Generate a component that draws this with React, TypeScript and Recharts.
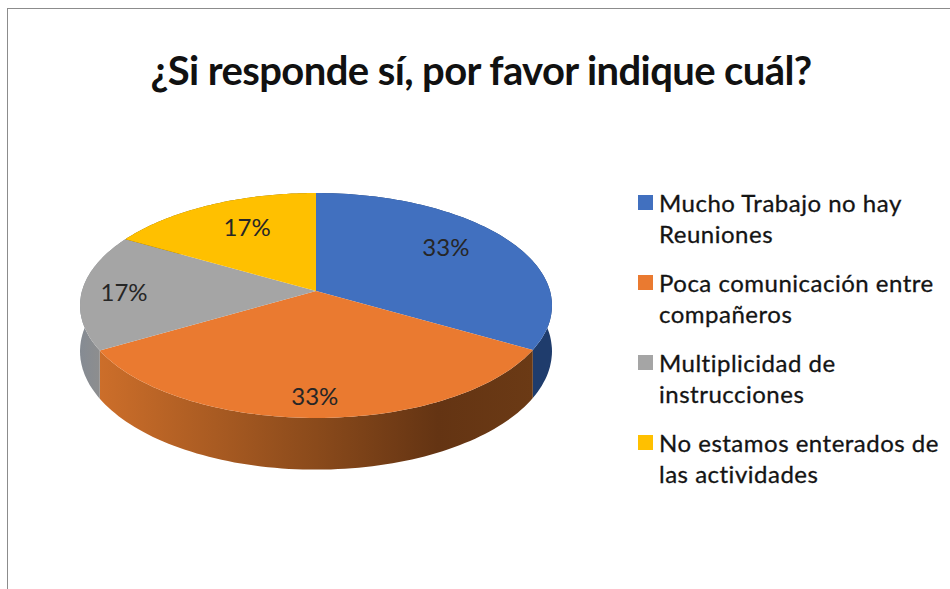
import { PieChart, Pie, Cell, Legend } from 'recharts';

const categories = [
  'Mucho Trabajo no hay Reuniones',
  'Poca comunicación entre compañeros',
  'Multiplicidad de instrucciones',
  'No estamos enterados de las actividades',
];
const shares = [33.3, 33.3, 16.7, 16.7];
const topColors = ['#4170BF', '#EA7A30', '#A5A5A5', '#FFC000'];
const wallColors = ['#1F3C6C', 'url(#wallOrange)', 'url(#wallGray)', '#7F6000'];
const legendLines = [
  ['Mucho Trabajo no hay', 'Reuniones'],
  ['Poca comunicación entre', 'compañeros'],
  ['Multiplicidad de', 'instrucciones'],
  ['No estamos enterados de', 'las actividades'],
];

const FONT = 'Lato, sans-serif';

// tilt of the disc: the far side is squeezed, the near side stretched
const PERSPECTIVE = 0.129;
const TILT_Y = 110.6 / 234;
const WALL_DEPTH = 45;

// best-fit placement of the percent labels: [radius fraction, angle shift]
const labelFit = [
  [0.72, 5.6],
  [0.84, -0.5],
  [0.82, 0],
  [0.71, -3.4],
];

const slices = categories.map((name, i) => ({ name, value: shares[i] }));

function project(cx: number, cy: number, r: number, angle: number, frac = 1) {
  const rad = (angle * Math.PI) / 180;
  const u = Math.cos(rad) * frac;
  const v = Math.sin(rad) * frac;
  const w = 1 + PERSPECTIVE * v;
  return { x: cx + (r * u) / w, y: cy - (r * TILT_Y * v) / w, w };
}

function arcPoints(props: any) {
  const { cx, cy, outerRadius, startAngle, endAngle } = props;
  const steps = 80;
  const pts = [];
  for (let i = 0; i <= steps; i++) {
    const a = startAngle + ((endAngle - startAngle) * i) / steps;
    pts.push(project(cx, cy, outerRadius, a));
  }
  return pts;
}

function TopFace(props: any) {
  const pts = arcPoints(props);
  const rim = pts.map((p) => `${p.x.toFixed(1)},${p.y.toFixed(1)}`).join(' L');
  return <path d={`M${props.cx},${props.cy} L${rim} Z`} fill={props.fill} stroke="none" />;
}

function WallFace(props: any) {
  const pts = arcPoints(props);
  const upper = pts.map((p) => `${p.x.toFixed(1)},${p.y.toFixed(1)}`);
  const lower = pts
    .map((p) => `${p.x.toFixed(1)},${(p.y + WALL_DEPTH / p.w).toFixed(1)}`)
    .reverse();
  return <path d={`M${upper.join(' L')} L${lower.join(' L')} Z`} fill={props.fill} stroke="none" />;
}

function renderPercent(props: any) {
  const { cx, cy, outerRadius, midAngle, value, index } = props;
  const [frac, shift] = labelFit[index];
  const p = project(cx, cy, outerRadius, midAngle + shift, frac);
  return (
    <text
      x={p.x}
      y={p.y}
      fill="#262626"
      fontFamily={FONT}
      fontSize={24}
      textAnchor="middle"
      dominantBaseline="central"
    >
      {Math.round(value)}%
    </text>
  );
}

function renderLegend(props: any) {
  // the wall series has legendType none, only the top faces get a row
  const payload = (props.payload ?? []).filter((entry: any) => entry.type !== 'none');
  return (
    <div
      style={{
        fontFamily: FONT,
        fontSize: 24,
        color: '#141414',
        letterSpacing: 0.5,
        WebkitTextStroke: '0.3px #141414',
      }}
    >
      {payload.map((entry: any, i: number) => (
        <div key={entry.value} style={{ position: 'relative', height: 80, paddingLeft: 21 }}>
          <span
            style={{
              position: 'absolute',
              left: 0,
              top: 2,
              width: 15,
              height: 15,
              background: entry.color,
            }}
          />
          {(legendLines[i] ?? []).map((line) => (
            <div key={line} style={{ height: 31, lineHeight: '31px', whiteSpace: 'nowrap', position: 'relative', top: -6 }}>
              {line}
            </div>
          ))}
        </div>
      ))}
    </div>
  );
}

export default function App() {
  return (
    <div
      style={{
        position: 'absolute',
        left: 0,
        top: 0,
        width: 950,
        height: 589,
        overflow: 'hidden',
        background: '#fff',
      }}
    >
      <div
        style={{
          position: 'absolute',
          left: 7,
          top: 8,
          width: 950,
          height: 600,
          borderTop: '1px solid #8c8c8c',
          borderLeft: '1px solid #8c8c8c',
        }}
      />
      <div
        style={{
          position: 'absolute',
          left: 0,
          top: 44,
          width: 962,
          textAlign: 'center',
          fontFamily: FONT,
          fontWeight: 700,
          fontSize: 40,
          letterSpacing: -0.6,
          lineHeight: '52px',
          color: '#111',
          whiteSpace: 'nowrap',
        }}
      >
        ¿Si responde sí, por favor indique cuál?
      </div>
      <PieChart
        width={950}
        height={589}
        margin={{ top: 0, right: 0, bottom: 0, left: 0 }}
        style={{ position: 'absolute', left: 0, top: 0 }}
      >
        <defs>
          <linearGradient id="wallOrange" gradientUnits="userSpaceOnUse" x1="100" y1="0" x2="533" y2="0">
            <stop offset="0" stopColor="#CC6E2A" />
            <stop offset="0.5" stopColor="#8A4A1B" />
            <stop offset="0.78" stopColor="#643413" />
            <stop offset="1" stopColor="#6B3A15" />
          </linearGradient>
          <linearGradient id="wallGray" gradientUnits="userSpaceOnUse" x1="80" y1="0" x2="102" y2="0">
            <stop offset="0" stopColor="#858B93" />
            <stop offset="1" stopColor="#8E8E8E" />
          </linearGradient>
        </defs>
        <Pie
          data={slices}
          dataKey="value"
          nameKey="name"
          cx={316}
          cy={291}
          outerRadius={234}
          startAngle={90}
          endAngle={-270}
          shape={WallFace}
          legendType="none"
          isAnimationActive={false}
        >
          {wallColors.map((c) => (
            <Cell key={c} fill={c} />
          ))}
        </Pie>
        <Pie
          data={slices}
          dataKey="value"
          nameKey="name"
          cx={316}
          cy={291}
          outerRadius={234}
          startAngle={90}
          endAngle={-270}
          shape={TopFace}
          label={renderPercent}
          labelLine={false}
          isAnimationActive={false}
        >
          {topColors.map((c) => (
            <Cell key={c} fill={c} />
          ))}
        </Pie>
        <Legend
          layout="vertical"
          itemSorter={null}
          content={renderLegend}
          wrapperStyle={{ position: 'absolute', left: 638, top: 193, width: 312, bottom: 'auto', right: 'auto' }}
        />
      </PieChart>
    </div>
  );
}
